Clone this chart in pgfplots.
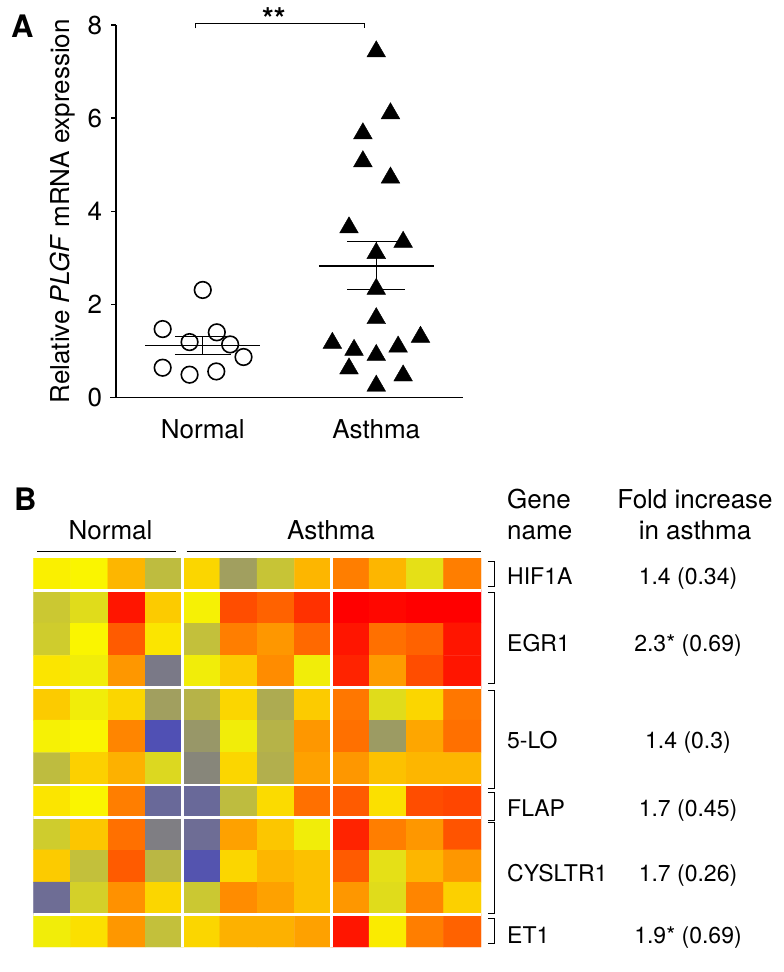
\documentclass[border=0pt]{standalone}
\usepackage{fontspec}
\setmainfont{TeX Gyre Heros}
\usepackage{pgfplots}
\usepackage{pgfplotstable}
\pgfplotsset{compat=1.18}

% panel A: relative PLGF mRNA expression
\pgfplotstableread{
x     y
1.000 2.31
0.769 1.47
1.081 1.40
0.924 1.19
1.158 1.14
1.235 0.87
0.769 0.64
1.078 0.56
0.924 0.49
}\normaltab

\pgfplotstableread{
x     y
2.000 7.43
2.082 6.10
1.923 5.67
1.923 5.07
2.082 4.72
1.843 3.65
2.155 3.34
2.000 3.10
2.000 2.33
2.000 1.70
2.255 1.30
1.747 1.17
1.872 1.02
2.126 1.09
2.000 0.91
1.843 0.62
2.155 0.47
2.000 0.25
}\asthmatab

\tikzset{lab/.style={inner sep=0pt},
         row/.style={inner sep=0pt, font=\fontsize{23}{27}\selectfont}}

\begin{document}
\fontsize{26}{31}\selectfont
\begin{tikzpicture}
% page frame, 1 px = 1 pt
\path (0pt,0pt) rectangle (784pt,-972pt);

%% ---------------- panel A
\node[lab, anchor=base west, font=\fontsize{31}{36}\selectfont\bfseries] at (11pt,-37pt) {A};
\begin{axis}[
  at={(116pt,-397.5pt)}, anchor=south west,
  scale only axis, width=347pt, height=372.5pt,
  xmin=0.5, xmax=2.5, ymin=0, ymax=8,
  axis x line*=bottom, axis y line*=left,
  axis line style={line width=1.8pt},
  x axis line style={shorten <=-6pt},
  xtick={1,2}, xticklabels={Normal,Asthma},
  xtick style={draw=none},
  xticklabel style={yshift=-8pt},
  ytick={0,2,4,6,8},
  tick align=outside, major tick length=5pt,
  ytick style={line width=1.5pt, black},
  /pgf/number format/assume math mode=true,
  ylabel={Relative \textit{PLGF} mRNA expression},
  ylabel style={at={(axis description cs:-0.153,0.5)}, anchor=center},
  clip=false,
]
\addplot[only marks, mark=o, mark size=8.3pt, mark options={line width=1.6pt}] table {\normaltab};
\addplot[only marks, mark=triangle*, mark size=10.8pt, mark options={fill=black, draw=black}] table {\asthmatab};

% mean +/- SEM
\addplot[line width=1.8pt] coordinates {(0.67,1.116) (1.33,1.116)};
\addplot[line width=1pt] coordinates {(1,0.93) (1,1.31)};
\addplot[line width=1pt] coordinates {(0.84,1.31) (1.16,1.31)};
\addplot[line width=1pt] coordinates {(0.84,0.93) (1.16,0.93)};
\addplot[line width=1.8pt] coordinates {(1.67,2.83) (2.33,2.83)};
\addplot[line width=1pt] coordinates {(2,2.31) (2,3.35)};
\addplot[line width=1pt] coordinates {(1.833,3.35) (2.167,3.35)};
\addplot[line width=1pt] coordinates {(1.833,2.31) (2.167,2.31)};

\draw[line width=1pt] (axis cs:0.96,7.93) -- (axis cs:0.96,8.03) -- (axis cs:1.93,8.03) -- (axis cs:1.93,7.93);
\node[lab, anchor=base, font=\fontsize{30}{36}\selectfont\bfseries] at (axis cs:1.41,7.9) {**};
\end{axis}

%% ---------------- panel B
\node[lab, anchor=base west, font=\fontsize{31}{36}\selectfont\bfseries] at (14pt,-510pt) {B};
\node[lab, anchor=base] at (110.5pt,-539.3pt) {Normal};
\node[lab, anchor=base] at (331pt,-539.3pt) {Asthma};
\draw[line width=1.2pt] (37pt,-551.7pt) -- (176pt,-551.7pt);
\draw[line width=1.2pt] (186.7pt,-551.7pt) -- (481pt,-551.7pt);

\begin{axis}[
  at={(33.3pt,-947pt)}, anchor=south west,
  scale only axis, width=447.7pt, height=389pt,
  xmin=-0.5, xmax=11.5, ymin=-0.5, ymax=11.5, y dir=reverse,
  hide axis,
  colormap={heat}{rgb255=(80,80,180) rgb255=(165,163,90) rgb255=(250,245,0) rgb255=(255,140,0) rgb255=(255,0,0)},
  point meta min=0, point meta max=4,
]
\addplot[matrix plot*, mesh/cols=12, point meta=explicit] coordinates {
(0,0)[2.05] (1,0)[2.0] (2,0)[2.6] (3,0)[1.3] (4,0)[2.3] (5,0)[0.95] (6,0)[1.4] (7,0)[2.6] (8,0)[3.1] (9,0)[2.6] (10,0)[1.75] (11,0)[3.1]
(0,1)[1.45] (1,1)[1.7] (2,1)[3.85] (3,1)[2.4] (4,1)[1.95] (5,1)[3.45] (6,1)[3.3] (7,1)[3.65] (8,1)[4.0] (9,1)[3.95] (10,1)[4.0] (11,1)[4.0]
(0,2)[1.5] (1,2)[2.0] (2,2)[3.35] (3,2)[2.15] (4,2)[1.35] (5,2)[3.1] (6,2)[2.9] (7,2)[3.25] (8,2)[3.85] (9,2)[3.2] (10,2)[3.3] (11,2)[3.85]
(0,3)[2.15] (1,3)[1.9] (2,3)[2.9] (3,3)[0.5] (4,3)[1.9] (5,3)[2.4] (6,3)[3.0] (7,3)[1.9] (8,3)[3.75] (9,3)[2.85] (10,3)[3.45] (11,3)[3.85]
(0,4)[2.4] (1,4)[1.9] (2,4)[2.3] (3,4)[0.95] (4,4)[1.2] (5,4)[2.3] (6,4)[1.1] (7,4)[2.4] (8,4)[3.15] (9,4)[1.7] (10,4)[2.3] (11,4)[3.15]
(0,5)[1.95] (1,5)[2.0] (2,5)[3.05] (3,5)[0.0] (4,5)[0.85] (5,5)[1.9] (6,5)[1.2] (7,5)[2.9] (8,5)[3.2] (9,5)[0.9] (10,5)[2.75] (11,5)[3.2]
(0,6)[1.3] (1,6)[2.35] (2,6)[2.65] (3,6)[1.65] (4,6)[0.65] (5,6)[2.3] (6,6)[1.15] (7,6)[2.8] (8,6)[2.9] (9,6)[2.5] (10,6)[2.6] (11,6)[2.6]
(0,7)[2.15] (1,7)[2.0] (2,7)[3.1] (3,7)[0.3] (4,7)[0.3] (5,7)[1.3] (6,7)[2.25] (7,7)[3.2] (8,7)[3.35] (9,7)[2.2] (10,7)[3.45] (11,7)[3.5]
(0,8)[1.5] (1,8)[2.45] (2,8)[3.2] (3,8)[0.55] (4,8)[0.35] (5,8)[2.8] (6,8)[2.45] (7,8)[1.9] (8,8)[3.75] (9,8)[3.1] (10,8)[2.9] (11,8)[3.4]
(0,9)[2.4] (1,9)[1.35] (2,9)[3.35] (3,9)[1.25] (4,9)[0.05] (5,9)[2.3] (6,9)[2.6] (7,9)[2.5] (8,9)[3.35] (9,9)[1.75] (10,9)[2.6] (11,9)[2.9]
(0,10)[0.35] (1,10)[1.55] (2,10)[2.95] (3,10)[2.3] (4,10)[1.45] (5,10)[3.0] (6,10)[2.8] (7,10)[2.5] (8,10)[2.9] (9,10)[1.7] (10,10)[3.05] (11,10)[2.35]
(0,11)[1.9] (1,11)[2.2] (2,11)[2.9] (3,11)[1.35] (4,11)[2.3] (5,11)[2.65] (6,11)[2.65] (7,11)[2.8] (8,11)[3.85] (9,11)[2.1] (10,11)[3.1] (11,11)[3.3]
};
% white separators between blocks
\draw[white, line width=2.6pt] (axis cs:3.5,-0.5) -- (axis cs:3.5,11.5);
\draw[white, line width=2.6pt] (axis cs:7.5,-0.5) -- (axis cs:7.5,11.5);
\draw[white, line width=2.6pt] (axis cs:-0.5,0.5) -- (axis cs:11.5,0.5);
\draw[white, line width=2.6pt] (axis cs:-0.5,3.5) -- (axis cs:11.5,3.5);
\draw[white, line width=2.6pt] (axis cs:-0.5,6.5) -- (axis cs:11.5,6.5);
\draw[white, line width=2.6pt] (axis cs:-0.5,7.5) -- (axis cs:11.5,7.5);
\draw[white, line width=2.6pt] (axis cs:-0.5,10.5) -- (axis cs:11.5,10.5);
\end{axis}

% gene brackets
\foreach \a/\b in {561.7/586.7, 592/683, 690/788, 792/820, 822/913, 918/943}
  \draw[line width=1pt] (488pt,-\a pt) -- (494.5pt,-\a pt) -- (494.5pt,-\b pt) -- (488pt,-\b pt);

\node[lab, anchor=base west] at (507pt,-508.3pt) {Gene};
\node[lab, anchor=base west] at (507pt,-539.3pt) {name};
\node[lab, anchor=base] at (695pt,-508.3pt) {Fold increase};
\node[lab, anchor=base] at (695pt,-539.3pt) {in asthma};

\node[row, anchor=base west] at (507pt,-584pt) {HIF1A};
\node[row, anchor=base west] at (507pt,-651.7pt) {EGR1};
\node[row, anchor=base west] at (507pt,-748.3pt) {5-LO};
\node[row, anchor=base west] at (507pt,-816.7pt) {FLAP};
\node[row, anchor=base west] at (507pt,-881.7pt) {CYSLTR1};
\node[row, anchor=base west] at (507pt,-943.3pt) {ET1};

\node[row, anchor=base] at (688pt,-584pt) {1.4 (0.34)};
\node[row, anchor=base] at (688pt,-651.7pt) {2.3* (0.69)};
\node[row, anchor=base] at (688pt,-748.3pt) {1.4 (0.3)};
\node[row, anchor=base] at (688pt,-816.7pt) {1.7 (0.45)};
\node[row, anchor=base] at (688pt,-881.7pt) {1.7 (0.26)};
\node[row, anchor=base] at (688pt,-943.3pt) {1.9* (0.69)};
\end{tikzpicture}
\end{document}
